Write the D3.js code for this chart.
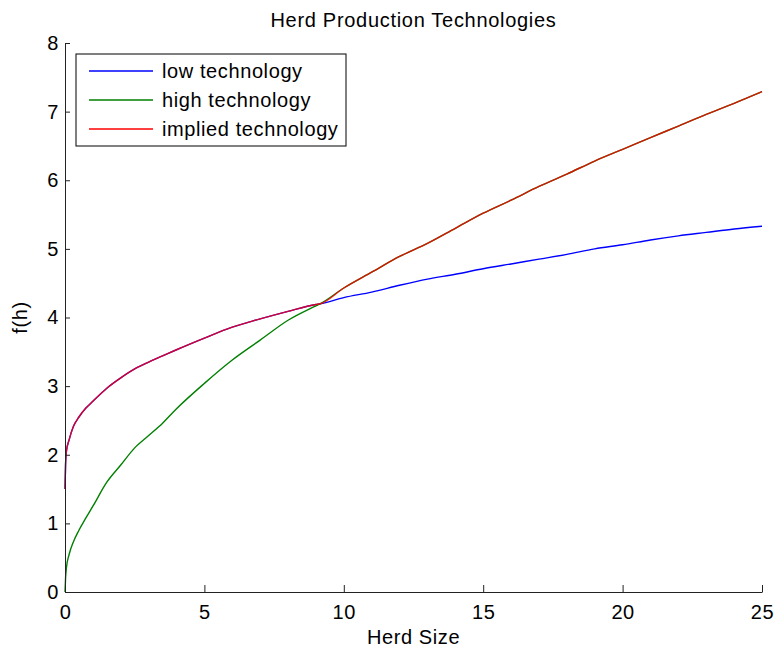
<!DOCTYPE html>
<html>
<head>
<meta charset="utf-8">
<script src="https://cdn.jsdelivr.net/npm/d3@7"></script>
<style>
  body { margin: 0; background: #fff; }
  text { font-family: "Liberation Sans", Arial, Helvetica, sans-serif; fill: #000; letter-spacing: 0.6px; }
</style>
</head>
<body>
<div class="chart-container"></div>
<script>
// herd size samples (x) and the values
let herdSize = [0, 0.02, 0.05, 0.15, 0.3, 0.5, 0.75, 1, 1.5, 2, 2.5, 3, 3.5, 4, 5, 6, 7, 8, 9, 9.15, 10, 11, 12, 13, 14, 15, 16, 17, 18, 19, 20, 21, 22, 23, 24, 25]
let lowTech = [1.5, 1.85, 2.05, 2.22, 2.41, 2.55, 2.68, 2.78, 2.97, 3.12, 3.25, 3.35, 3.44, 3.53, 3.70, 3.86, 3.98, 4.09, 4.19, 4.20, 4.29, 4.37, 4.47, 4.56, 4.63, 4.71, 4.78, 4.85, 4.92, 5.00, 5.06, 5.13, 5.19, 5.24, 5.29, 5.33]
let highTech = [0, 0.2, 0.35, 0.55, 0.73, 0.9, 1.08, 1.25, 1.6, 1.85, 2.1, 2.28, 2.46, 2.67, 3.04, 3.38, 3.67, 3.96, 4.17, 4.20, 4.43, 4.66, 4.89, 5.08, 5.30, 5.52, 5.71, 5.91, 6.09, 6.28, 6.45, 6.62, 6.79, 6.96, 7.12, 7.29]
let impliedTech = [1.5, 1.85, 2.05, 2.22, 2.41, 2.55, 2.68, 2.78, 2.97, 3.12, 3.25, 3.35, 3.44, 3.53, 3.70, 3.86, 3.98, 4.09, 4.19, 4.20, 4.43, 4.66, 4.89, 5.08, 5.30, 5.52, 5.71, 5.91, 6.09, 6.28, 6.45, 6.62, 6.79, 6.96, 7.12, 7.29]

let xTicks = [0, 5, 10, 15, 20, 25]
let yTicks = [0, 1, 2, 3, 4, 5, 6, 7, 8]
let seriesNames = ['low technology', 'high technology', 'implied technology']

let margin = { top: 43, right: 16, bottom: 62, left: 65 },
    fullWidth = 778, fullHeight = 654,
    width = fullWidth - margin.left - margin.right,
    height = fullHeight - margin.top - margin.bottom

let color = d3.scaleOrdinal()
  .domain(seriesNames)
  .range(['#0000ff', '#008000', '#ff0000'])

let x = d3.scaleLinear().domain([0, 25]).range([0, width])
let y = d3.scaleLinear().domain([0, 8]).range([height, 0])

let svgRoot = d3.select('.chart-container')
  .append('svg')
  .attr('width', fullWidth)
  .attr('height', fullHeight)

let svg = svgRoot.append('g')
  .attr('transform', `translate(${margin.left},${margin.top})`)

let series = [
  { name: seriesNames[0], values: lowTech, opacity: 1 },
  { name: seriesNames[1], values: highTech, opacity: 1 },
  { name: seriesNames[2], values: impliedTech, opacity: 0.82 }
]

let line = d3.line()
  .x(function (d) { return x(d[0]) })
  .y(function (d) { return y(d[1]) })
  .curve(d3.curveMonotoneX)

svg.selectAll('.curve')
  .data(series)
  .enter()
  .append('path')
  .attr('class', 'curve')
  .attr('fill', 'none')
  .attr('stroke', d => color(d.name))
  .attr('stroke-opacity', d => d.opacity)
  .attr('stroke-width', 1.4)
  .attr('d', d => line(herdSize.map((h, i) => [h, d.values[i]])))

// axes, ticks pointing inward, no box
let xAxis = svg.append('g')
  .attr('transform', `translate(0,${height})`)
  .call(d3.axisBottom(x).tickValues(xTicks).tickSizeInner(-7).tickSizeOuter(0).tickPadding(13))
let yAxis = svg.append('g')
  .call(d3.axisLeft(y).tickValues(yTicks).tickSizeInner(-5).tickSizeOuter(0).tickPadding(6))

;[xAxis, yAxis].forEach(ax => {
  ax.select('.domain').attr('stroke', '#222').attr('stroke-width', 1)
  ax.selectAll('.tick line').attr('stroke', '#222')
  ax.selectAll('.tick text')
    .style('font-family', '"Liberation Sans", Arial, sans-serif')
    .style('font-size', '20px')
    .attr('fill', '#000')
})

// titles
svg.append('text')
  .attr('x', width / 2)
  .attr('y', -16)
  .attr('text-anchor', 'middle')
  .style('font-size', '20px')
  .style('letter-spacing', '0.7px')
  .text('Herd Production Technologies')

svg.append('text')
  .attr('x', width / 2)
  .attr('y', height + 52)
  .attr('text-anchor', 'middle')
  .style('font-size', '20px')
  .text('Herd Size')

svg.append('text')
  .attr('transform', `translate(${-38},${height / 2}) rotate(-90)`)
  .attr('text-anchor', 'middle')
  .style('font-size', '20px')
  .text('f(h)')

// legend
let legend = svg.append('g')
  .attr('transform', 'translate(11,11)')

legend.append('rect')
  .attr('width', 270)
  .attr('height', 92)
  .attr('fill', '#fff')
  .attr('stroke', '#000')
  .attr('stroke-width', 1)

let item = legend.selectAll('.item')
  .data(seriesNames)
  .enter()
  .append('g')
  .attr('class', 'item')
  .attr('transform', (d, i) => `translate(0,${17 + i * 29})`)

item.append('line')
  .attr('x1', 13)
  .attr('x2', 77)
  .attr('stroke', d => color(d))
  .attr('stroke-width', 1.4)

item.append('text')
  .attr('x', 86)
  .attr('dy', '0.35em')
  .style('font-size', '20px')
  .text(d => d)
</script>
</body>
</html>
